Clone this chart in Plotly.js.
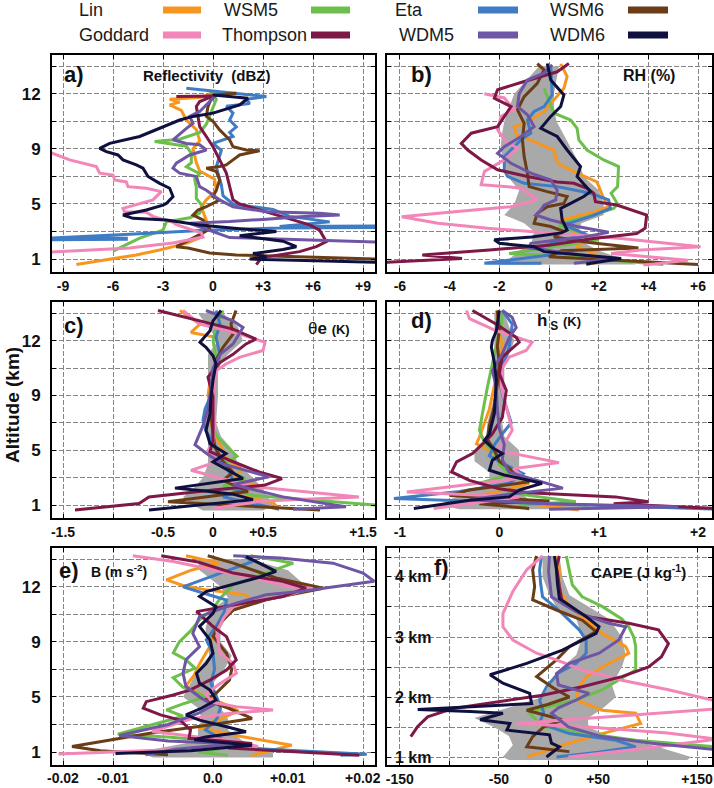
<!DOCTYPE html>
<html>
<head>
<meta charset="utf-8">
<script src="https://cdn.plot.ly/plotly-3.0.1.min.js"></script>
<style>
  html, body { margin: 0; padding: 0; background: #fff; }
  #chart { width: 714px; height: 788px; }
</style>
</head>
<body>
<div id="chart"></div>
<script>
// model order and colours (legend reads across, two rows)
const models = ['Lin', 'WSM5', 'Eta', 'WSM6', 'Goddard', 'Thompson', 'WDM5', 'WDM6'];
const colors = ['#f7961f', '#6cbf4a', '#3f7cc4', '#6a3d17', '#f386b8', '#7d1847', '#6f56a4', '#10103f'];

// panels a-e use the model level axis: one grid step per level, labelled in km
const levTicks = [0, 2, 4, 6];
const levLabels = ['1', '5', '9', '12'];
const levGrid = [1, 3, 5, 7];
// panel f is in km
const kmTicks = [1, 2, 3, 4];
const kmLabels = ['1 km', '2 km', '3 km', '4 km'];
const kmGrid = [1.5, 2.5, 3.5, 4.33];

// ---- a) reflectivity (dBZ), points are [value, level]
const reflLin = [[-8.2,-0.2],[-6.2,0],[-4.6,0.15],[-3.2,0.33],[-1.6,0.57],[-0.7,0.8],[-0.8,1.0],[-0.3,1.18],[-0.4,1.4],[-0.7,1.9],[-0.4,2.15],[0.2,2.5],[0.1,2.9],[-0.8,3.2],[-1.0,3.5],[-1.2,4.0],[-0.8,4.3],[-1.0,4.7],[-1.6,5.05],[-1.9,5.4],[-2.6,5.6],[-2.0,5.7],[-2.6,5.8],[-0.8,5.87],[0,6.0],[1.4,6.02]];
const reflWSM5 = [[-6.0,0.29],[-4.4,0.76],[-3.0,1.05],[-2.8,1.35],[-1.4,1.5],[-0.8,1.67],[-0.6,1.9],[-1.0,2.2],[-1.0,2.6],[-1.1,2.9],[-0.8,3.1],[-1.6,3.35],[-1.3,3.5],[-1.3,3.85],[-1.6,4.1],[-3.5,4.27],[-2.0,4.35],[-0.8,4.6],[-0.4,4.9],[0,5.5],[0.2,5.8],[-0.2,6.1]];
const reflEta = [[-9.9,0.7],[-5.2,0.72],[-5.2,0.76],[-9.9,0.76],[-5.0,0.9],[-3.0,0.97],[-0.5,1.05],[4.0,1.13],[9.9,1.15],[9.9,1.2],[4.0,1.18],[7.0,1.35],[4.6,1.55],[3.6,1.8],[1.2,2.0],[0.6,2.3],[0.5,2.7],[0.4,2.9],[0.2,3.35],[0.5,3.95],[0.0,4.2],[1.2,4.45],[1.0,4.6],[1.4,4.8],[1.0,5.05],[1.2,5.3],[0.8,5.55],[2.2,5.65],[2.0,5.8],[3.2,5.9],[1.6,6.0],[-1.6,6.2]];
const reflWSM6 = [[1.4,6.02],[0,5.95],[-0.3,5.54],[-0.4,5.18],[0,5.0],[0.4,4.69],[0.8,4.45],[1.0,4.33],[1.2,4.08],[2.0,3.96],[2.8,3.93],[1.6,3.78],[1.2,3.6],[0.8,3.42],[0.4,3.36],[-0.4,3.3],[0.2,3.18],[0.4,2.87],[0.2,2.5],[0,2.27],[0.4,2.15],[-0.4,1.9],[-0.9,1.78],[-1.2,1.6],[-0.6,1.42],[-0.2,1.1],[-0.6,0.95],[-2.2,0.45],[-1.5,0.4],[-0.2,0.22],[1.4,0.15],[9.9,0.0]];
const reflGoddard = [[-9.9,3.9],[-8.6,3.6],[-7,3.36],[-6.8,3.12],[-6,3.05],[-5.9,2.87],[-5.2,2.8],[-5.1,2.63],[-4,2.57],[-3.1,2.45],[-3.6,2.15],[-4.4,2.02],[-5.4,1.84],[-5.3,1.72],[-4,1.7],[-3.6,1.55],[-2.4,1.33],[-2.2,1.25],[-0.7,0.95],[-0.6,0.8],[-1.6,0.68],[-2.4,0.58],[-3.6,0.5],[-5,0.4],[-9.9,0.25]];
const reflThompson = [[-2.2,5.9],[0,5.92],[-0.8,5.72],[-1.0,5.54],[-0.9,5.18],[-0.8,4.81],[-0.4,4.45],[0,4.08],[0.4,3.6],[0.8,3.12],[1.0,2.63],[1.2,2.15],[1.6,2.0],[3.2,1.72],[4.8,1.42],[5.8,1.24],[6.4,1.05],[6.6,0.81],[6.8,0.63],[6.2,0.45],[5.2,0.27],[3.2,0.08],[2.8,-0.04],[2.6,-0.2]];
const reflWDM5 = [[0.2,5.96],[-0.2,5.72],[-0.8,5.36],[-1.4,5.18],[-1.2,4.93],[-1.7,4.69],[-2.2,4.45],[-2.4,4.33],[-1.6,4.2],[-0.8,4.15],[-0.4,3.96],[-1.4,3.78],[-2.2,3.48],[-2.4,3.3],[-2.0,3.12],[-1.0,3.0],[-0.8,2.63],[-0.4,2.5],[0.4,2.15],[1.2,1.9],[3.2,1.72],[6.4,1.66],[7.6,1.6],[5.2,1.54],[3.2,1.45],[1.0,1.36],[-1.4,1.3],[1.0,0.78],[9.9,0.62]];
const reflWDM6 = [[0,5.96],[2.1,5.84],[1.6,5.6],[0,5.3],[-1.2,5.18],[-2.0,5.05],[-3.2,4.75],[-4.4,4.45],[-6.2,4.2],[-6.8,4.02],[-6.4,3.9],[-5.7,3.78],[-5.4,3.6],[-4.6,3.42],[-4.2,3.3],[-3.9,3.0],[-3.2,2.75],[-2.6,2.57],[-2.4,2.27],[-2.8,2.02],[-3.0,1.96],[-4.0,1.78],[-5.4,1.6],[-4.8,1.48],[-2.8,1.42],[-0.8,1.24],[1.6,1.1],[3.8,1.0],[1.6,0.85],[2.5,0.78],[4.2,0.65],[5.0,0.45],[4.2,0.35],[2.4,0.2],[3.2,0.08],[2.2,0.0],[9.9,-0.12]];

// ---- b) relative humidity (%)
const rhLin = [[0.47,7.09],[0.73,6.63],[0.6,6.2],[0.13,5.72],[-0.2,5.36],[-0.73,5.05],[-1.4,4.8],[-1.3,4.5],[-0.7,4.3],[0.2,3.96],[0.33,3.5],[0.73,3.3],[1.13,3.12],[1.93,2.8],[2.2,2.2],[2.4,1.9],[1.8,1.7],[0.4,1.4],[0.9,1.05],[1.6,0.7],[1.1,0.45],[1.8,0.2],[2.1,-0.1],[1.5,-0.2]];
const rhWSM5 = [[-0.2,6.2],[0.2,5.3],[0.87,5.05],[1.13,4.75],[1.2,4.33],[1.53,3.96],[2.2,3.6],[2.8,3.36],[2.76,2.63],[2.5,2.39],[2.76,2.0],[2.6,1.84],[1.56,1.54],[0.76,1.36],[0.4,1.2],[1.2,1.0],[2.0,0.7],[0.5,0.5],[-1.6,0.2],[0.5,0.1],[4.6,-0.2]];
const rhEta = [[0.07,7.0],[0.13,5.96],[-0.2,5.54],[-0.6,5.36],[-0.87,5.05],[-0.73,4.57],[-1.13,4.33],[-1.53,3.96],[-1.8,3.72],[-1.8,3.24],[-1.67,3.0],[-1.0,2.75],[0.33,2.63],[1.67,2.39],[2.4,2.15],[2.47,1.84],[1.83,1.6],[1.03,1.36],[0.6,1.24],[1.5,0.9],[0.2,0.6],[-0.5,0.4],[0.5,0.2],[-2.6,-0.15],[-0.3,-0.15]];
const rhWSM6 = [[-0.47,7.1],[-0.2,6.87],[-0.47,6.38],[-1.0,5.9],[-1.27,5.42],[-1.0,4.93],[-1.07,4.33],[-1.0,3.72],[-0.87,3.12],[-0.8,2.63],[-0.07,2.45],[0.73,2.27],[0.6,2.02],[-0.07,1.9],[-0.47,1.66],[-0.6,1.3],[0.07,1.18],[0.6,1.0],[0.2,0.8],[1.6,0.6],[3.6,0.4],[0.5,0.3],[0,0.08],[6.0,-0.2]];
const rhGoddard = [[-2.6,6.0],[-1.8,5.85],[-1.4,5.42],[-1.93,5.18],[-2.07,4.7],[-1.8,4.33],[-1.27,4.02],[-1.8,3.6],[-2.6,3.18],[-2.73,2.7],[-1.67,2.63],[-1.13,2.57],[-0.47,2.15],[-1.53,1.9],[-3.8,1.72],[-5.93,1.54],[-4.47,1.3],[-2.47,1.12],[0,0.95],[2.9,0.75],[6.1,0.45],[3.7,0.33],[2.5,0.2],[5.6,-0.04],[3.8,-0.22]];
const rhThompson = [[0.8,7.1],[0.33,6.8],[-1.0,6.45],[-2.07,6.15],[-2.2,5.84],[-1.53,5.54],[-2.07,4.81],[-3.13,4.57],[-3.53,4.2],[-3.27,3.96],[-2.73,3.6],[-2.07,3.24],[-0.87,3.0],[0.33,2.8],[1.0,2.75],[1.53,2.57],[1.8,2.39],[1.87,2.08],[2.73,1.96],[3.93,1.6],[3.87,1.12],[3.53,0.93],[1.8,0.75],[0,0.5],[-2.4,0.33],[-5.1,0.15],[-3.5,0.02],[-6.6,-0.12]];
const rhWDM5 = [[0.13,7.05],[-0.2,6.75],[-0.87,6.5],[-1.2,6.0],[-1.27,5.54],[-0.87,5.24],[-0.6,4.81],[-1.13,4.45],[-1.8,4.08],[-2.07,3.84],[-1.53,3.48],[-0.73,3.12],[0.07,2.87],[0.33,2.5],[0.27,2.15],[-0.2,1.96],[-0.33,1.78],[-0.53,1.6],[0.07,1.42],[1.13,1.18],[2.4,0.97],[1.4,0.8],[0.33,0.69],[-0.73,0.57],[-0.8,0.4],[0.5,0.25],[2.6,0.0],[1.0,-0.15]];
const rhWDM6 = [[-0.07,7.1],[0.07,6.5],[0.6,5.96],[0.47,5.54],[0.07,5.18],[-0.33,4.75],[0.33,4.45],[0.73,3.96],[1.27,3.36],[1.13,3.0],[1.67,2.45],[1.4,2.27],[0.87,2.02],[0.47,1.84],[0.53,1.42],[0.73,1.05],[0.5,0.95],[-0.7,0.8],[-2.2,0.7],[-2.0,0.57],[-0.6,0.45],[-0.2,0.27],[2.9,0.02],[1.5,-0.18]];
const rhBandLev = [7.0, 6.5, 6.0, 5.5, 5.0, 4.5, 4.0, 3.5, 3.0, 2.5, 2.0, 1.6, 1.3, 1.0, 0.6, 0.3, 0.0, -0.2];
const rhBandLo = [-0.4, -0.9, -1.4, -1.6, -1.8, -1.9, -1.95, -1.8, -1.67, -1.2, -1.4, -1.8, -1.0, -0.6, -0.7, -1.2, -1.6, -2.0];
const rhBandHi = [0.4, 0.3, 0.2, 0.2, 0.3, 0.6, 0.9, 1.2, 1.4, 2.0, 2.2, 2.2, 1.3, 1.2, 1.4, 2.0, 3.0, 3.5];

// ---- c) equivalent potential temperature (K)
const theLin = [[-0.33,7.1],[-0.13,6.6],[-0.22,6.3],[0.03,6.12],[0.07,5.5],[0.05,5.0],[-0.03,4.5],[-0.05,4.0],[0,3.5],[-0.02,3.0],[0.03,2.5],[0.1,2.0],[0.15,1.6],[0.3,1.3],[0.2,1.0],[0.45,0.7],[0.2,0.4],[0.6,0.1],[0.66,-0.15]];
const theWSM5 = [[0.1,7.1],[0.03,6.5],[0,6.0],[0.03,5.4],[0,4.5],[0,3.5],[0,2.8],[0.05,2.45],[0.24,1.78],[0.12,1.52],[0.2,1.2],[0.32,0.97],[0.1,0.7],[0.4,0.35],[1.65,0.0]];
const theEta = [[0.03,7.1],[0.07,6.6],[0.03,6.12],[0.07,5.5],[0.02,4.8],[0,4.2],[-0.08,3.5],[-0.1,3.1],[-0.07,2.7],[0.02,2.2],[0.05,1.8],[0.15,1.3],[0.2,0.9],[0.3,0.6],[0.1,0.3],[0.66,-0.15]];
const theWSM6 = [[0.23,7.1],[0.18,6.6],[0.2,6.24],[0.1,5.76],[0.03,5.3],[0,4.7],[0,4.0],[-0.02,3.3],[0,2.6],[0.02,2.1],[0.1,1.6],[0.2,1.2],[0.1,0.9],[0.35,0.5],[-0.45,0.12],[1.07,-0.18]];
const theGoddard = [[-0.3,7.1],[-0.13,6.6],[0.27,6.24],[0.52,5.94],[0.5,5.64],[0.27,5.4],[0.13,5.15],[0.03,4.9],[0,4.0],[0.02,3.0],[0,2.3],[-0.05,2.0],[0.05,1.6],[-0.22,1.27],[0.06,1.0],[0.4,0.67],[1.46,0.3],[0.5,0.15],[0,-0.12]];
const theThompson = [[-0.55,7.1],[-0.27,6.85],[0.2,6.42],[0.43,6.06],[0.33,5.88],[0.2,5.5],[0.07,5.2],[0,4.9],[-0.05,4.67],[0,3.94],[0,3.09],[0,2.36],[-0.03,1.95],[0.19,1.6],[0.46,1.21],[0.69,0.97],[0.52,0.73],[0,0.55],[-0.64,0.3],[-0.74,0.06],[-1.38,-0.18]];
const theWDM5 = [[-0.07,7.1],[0.2,6.72],[0.3,6.48],[0.2,5.88],[0.07,5.5],[0,5.0],[-0.02,4.3],[-0.05,3.5],[-0.1,2.9],[-0.18,2.2],[-0.05,1.85],[0.1,1.5],[0.56,1.03],[0.2,0.75],[0.7,0.3],[1.33,-0.06],[0.8,-0.15]];
const theWDM6 = [[0.08,7.1],[0,6.72],[-0.03,6.36],[-0.13,5.94],[-0.07,5.76],[0,5.45],[0.03,5.15],[0,4.55],[-0.02,3.94],[-0.03,3.33],[-0.07,2.73],[-0.03,2.24],[0.13,1.88],[0,1.58],[0.3,0.97],[-0.38,0.62],[-0.1,0.52],[0.2,0.4],[0.4,0.2],[-0.64,-0.18]];
const theBandLev = [7.0, 6.5, 6.0, 5.5, 5.0, 4.0, 3.0, 2.5, 2.0, 1.5, 1.0, 0.6, 0.3, 0.0, -0.2];
const theBandLo = [-0.15, -0.05, 0.05, -0.05, -0.05, -0.05, -0.08, -0.05, -0.05, -0.05, -0.1, -0.2, -0.3, -0.2, -0.1];
const theBandHi = [0.1, 0.25, 0.3, 0.15, 0.05, 0.05, 0.03, 0.08, 0.2, 0.25, 0.4, 0.5, 0.55, 0.6, 0.5];

// ---- d) saturated moist static energy anomaly (K)
const hsLin = [[-0.03,7.1],[0,6.5],[0.03,5.76],[0,5.2],[-0.05,4.3],[-0.1,3.5],[-0.2,2.48],[-0.23,2.24],[-0.1,2.0],[0.0,1.6],[0.1,1.2],[0.3,0.8],[0.0,0.5],[-0.3,0.3],[0.2,0.1],[0.8,-0.18]];
const hsWSM5 = [[0.03,7.1],[0.02,6.5],[-0.02,6.0],[-0.05,5.5],[-0.07,5.15],[-0.12,4.3],[-0.17,3.33],[-0.2,2.73],[-0.15,2.3],[-0.05,1.9],[0.0,1.5],[0.1,1.1],[-0.2,0.8],[0.2,0.4],[0.77,0.12],[0.2,0.0],[0.3,-0.15]];
const hsEta = [[0.03,7.1],[0.13,6.6],[0.1,5.76],[0.03,5.03],[0,4.5],[0.05,3.8],[0.12,3.0],[0.03,2.6],[-0.05,2.2],[-0.1,1.8],[0.05,1.5],[0.24,1.15],[0.1,0.8],[-0.4,0.5],[-1.06,0.24],[-0.5,0.18],[0.5,0.05],[2.2,-0.15]];
const hsWSM6 = [[-0.02,7.1],[0,6.4],[-0.02,5.8],[0,5.2],[-0.02,4.4],[-0.05,3.6],[-0.1,2.9],[-0.12,2.4],[-0.05,2.0],[0.0,1.6],[0.15,1.2],[0.3,0.85],[-0.3,0.55],[-0.5,0.35],[0.5,0.15],[-0.2,0.05],[0.3,-0.12]];
const hsGoddard = [[-0.33,7.1],[-0.3,6.8],[-0.03,6.36],[0.17,6.12],[0.33,5.94],[0.27,5.64],[0.1,5.4],[0.03,5.0],[0.02,4.3],[0.07,3.58],[0.13,2.73],[0.07,2.36],[-0.03,2.0],[0.6,1.55],[0.14,1.33],[0.25,1.0],[-0.93,0.48],[0.2,0.3],[-0.2,0.1],[-0.66,-0.12]];
const hsThompson = [[-0.27,7.1],[-0.03,6.6],[0.17,6.12],[0.2,5.94],[0.03,5.4],[0,4.8],[0.07,4.18],[0.03,3.2],[-0.07,2.6],[-0.13,2.36],[-0.27,1.88],[-0.43,1.58],[-0.48,1.21],[-0.3,0.9],[0,0.6],[0.3,0.45],[1.17,0.3],[1.5,0.12],[1.15,0.05],[2.2,-0.12]];
const hsWDM5 = [[0.03,7.1],[0.13,6.85],[0.17,6.48],[0.1,6.12],[0.03,5.52],[-0.07,4.9],[-0.03,4.3],[-0.02,3.5],[0,2.8],[0.05,2.2],[0.03,1.65],[0.1,1.2],[0.64,0.62],[0.1,0.4],[-0.3,0.2],[0.5,0.05],[1.8,-0.06],[0.5,-0.15]];
const hsWDM6 = [[0,7.1],[-0.03,6.36],[-0.07,6.0],[-0.08,5.76],[-0.05,5.2],[-0.03,4.55],[-0.05,3.33],[-0.1,2.6],[-0.15,2.36],[-0.08,2.12],[0.03,1.88],[-0.07,1.64],[-0.1,1.27],[0.05,1.1],[0.43,0.8],[0.2,0.55],[0.1,0.3],[-0.3,0.18],[-0.86,-0.12]];
const hsBandLev = [7.0, 6.0, 5.0, 4.0, 3.0, 2.5, 2.0, 1.6, 1.2, 0.8, 0.5, 0.2, 0.0, -0.15];
const hsBandLo = [-0.05, -0.05, -0.05, -0.05, -0.12, -0.13, -0.25, -0.25, -0.1, -0.1, -0.3, -0.5, -0.6, -0.4];
const hsBandHi = [0.05, 0.15, 0.05, 0.05, 0.03, 0.05, 0.2, 0.2, 0.2, 0.3, 0.2, 0.3, 0.9, 0.9];

// ---- e) buoyancy (m s-2)
const bLin = [[-0.0036,7.13],[0.0009,6.86],[-0.003,6.6],[-0.0062,6.25],[-0.004,6.05],[-0.0009,5.89],[0.0044,5.71],[0.0053,5.47],[0.0027,5.16],[0.001,4.8],[0,4.3],[-0.0005,3.8],[-0.0018,3.2],[-0.0025,2.8],[-0.0036,2.4],[-0.001,2.0],[0.0015,1.75],[0.0034,1.5],[0.001,1.2],[-0.002,0.9],[0.003,0.6],[0.0105,0.25],[0.0052,-0.12]];
const bWSM5 = [[0.005,7.13],[0.0107,6.86],[0.007,6.5],[0.0027,6.07],[0.001,5.6],[0,5.2],[-0.0018,4.8],[-0.003,4.4],[-0.0045,4.0],[-0.0053,3.6],[-0.0036,3.35],[-0.0024,3.05],[-0.0053,2.7],[-0.004,2.35],[-0.001,2.0],[-0.004,1.75],[-0.0062,1.53],[-0.004,1.3],[-0.008,1.0],[-0.0127,0.65],[-0.006,0.55],[0,0.4],[0.003,0.2],[-0.002,0.0],[0.002,-0.12]];
const bEta = [[0.004,7.13],[0.0053,6.92],[0.003,6.7],[0,6.4],[-0.004,6.0],[-0.001,5.75],[0.0018,5.52],[0.0015,5.1],[0.0005,4.6],[-0.0009,4.07],[0,3.59],[0.0002,3.0],[-0.0003,2.5],[0.0005,2.0],[0.001,1.6],[0.0005,1.2],[-0.001,0.8],[0.001,0.5],[0,0.2],[0.0205,-0.08],[0.017,-0.12]];
const bWSM6 = [[-0.0007,7.13],[0.0027,6.86],[0.0084,6.32],[0.0147,5.95],[0.011,5.75],[0.0071,5.53],[0.0027,5.16],[0.001,4.7],[0,4.2],[0.0018,3.59],[0.0025,3.0],[0.0022,2.62],[0.0004,2.13],[-0.001,1.9],[0.002,1.6],[0.0052,1.22],[0,1.0],[-0.008,0.7],[-0.0188,0.2],[-0.015,0.05],[-0.006,-0.1]];
const bGoddard = [[-0.0107,7.13],[-0.0053,6.92],[0,6.62],[0.0053,6.32],[0.0102,6.0],[0.0131,5.95],[0.0093,5.65],[0.0049,5.47],[0.0027,5.28],[0.0015,4.9],[0.0005,4.4],[0.0009,3.6],[0.0027,3.22],[0.0031,2.86],[0.001,2.5],[-0.001,2.1],[0,1.8],[0.0031,1.65],[0.008,1.53],[0.002,1.4],[-0.003,1.2],[-0.0081,0.75],[-0.002,0.55],[0.003,0.4],[0.006,0.2],[-0.0206,-0.07]];
const bThompson = [[-0.0069,7.13],[-0.002,6.9],[0.0027,6.5],[0.0093,6.2],[0.0124,5.95],[0.0093,5.65],[0.004,5.4],[0,5.22],[-0.0022,5.1],[0,4.56],[0.0018,4.19],[0.0031,3.35],[0.0018,2.98],[-0.0005,2.6],[-0.0031,2.25],[-0.0053,2.07],[-0.0089,1.83],[-0.0093,1.59],[-0.007,1.35],[-0.0044,1.16],[-0.003,0.8],[-0.0032,0.5],[0.0052,0.31],[0.002,0.15],[0.0195,-0.12]];
const bWDM5 = [[0.0027,7.13],[0.009,7.05],[0.016,6.86],[0.02,6.5],[0.0215,6.2],[0.016,6.0],[0.0116,5.83],[0.0071,5.71],[0.003,5.4],[0,5.1],[-0.0018,4.92],[-0.0027,4.31],[-0.0018,3.83],[-0.0036,3.35],[-0.004,2.86],[-0.0036,2.38],[-0.0018,2.0],[0,1.7],[-0.002,1.4],[-0.006,1.0],[-0.0125,0.6],[-0.006,0.4],[0.003,0.3],[-0.005,0.1],[-0.009,-0.1]];
const bWDM6 = [[0.0044,7.1],[0.0084,6.56],[0.0058,6.32],[0.0022,6.07],[-0.0009,5.83],[-0.0018,5.65],[0.0004,5.28],[0,5.04],[-0.0018,4.56],[-0.0004,4.07],[0,3.59],[-0.0009,3.22],[-0.0022,2.86],[-0.0018,2.5],[-0.0004,2.25],[0.0004,1.89],[-0.0015,1.6],[-0.0036,1.35],[-0.0018,1.16],[0.0018,0.92],[0.0044,0.74],[-0.001,0.55],[-0.0025,0.45],[0.0052,0.25],[-0.003,0.05],[-0.013,-0.05]];
const bBandLev = [7.0, 6.6, 6.0, 5.6, 5.3, 5.0, 4.5, 4.0, 3.5, 3.0, 2.5, 2.0, 1.6, 1.2, 0.8, 0.4, 0.0, -0.2];
const bBandLo = [-0.002, -0.0018, 0.001, 0.002, 0.0005, -0.0005, -0.001, -0.0008, -0.0005, -0.002, -0.003, -0.004, -0.002, -0.0015, -0.002, -0.002, -0.01, -0.008];
const bBandHi = [0.005, 0.01, 0.0125, 0.008, 0.0035, 0.002, 0.001, 0.001, 0.0025, 0.0015, 0, -0.0005, 0.001, 0.002, 0.002, 0.004, 0.008, 0.008];

// ---- f) CAPE (J kg-1), points are [value, km]
const capeLin = [[9,4.35],[11,4.12],[10,3.8],[21,3.51],[40,3.25],[54,3.06],[78,2.84],[81,2.73],[60,2.55],[38,2.34],[30,2.15],[28,1.95],[54,1.78],[88,1.73],[93,1.56],[54,1.39],[21,1.23],[-22,1.0]];
const capeWSM5 = [[18,4.35],[21,4.12],[24,3.87],[34,3.67],[54,3.51],[74,3.3],[81,3.17],[86,3.0],[88,2.84],[88,2.45],[54,2.12],[28,1.95],[-5,1.82],[-19,1.73],[-6,1.51],[38,1.39],[88,1.28],[170,1.17]];
const capeEta = [[-7,4.35],[-9,4.12],[-8,3.9],[-6,3.67],[10,3.45],[31,3.12],[38,2.95],[38,2.73],[28,2.56],[10,2.4],[-2,2.17],[-9,1.95],[-5,1.75],[-9,1.56],[21,1.39],[68,1.28],[88,1.17],[50,1.08],[8,1.0]];
const capeWSM6 = [[-12,4.35],[-16,4.12],[-14,3.84],[-16,3.62],[8,3.45],[34,3.28],[48,3.09],[21,2.84],[8,2.62],[-12,2.34],[5,2.15],[21,2.0],[0,1.88],[-22,1.78],[14,1.62],[-5,1.5],[-16,1.34],[-22,1.17],[21,1.09]];
const capeGoddard = [[-6,4.35],[-22,4.12],[-36,3.76],[-46,3.39],[-46,3.17],[-36,2.95],[-12,2.73],[8,2.62],[34,2.45],[74,2.28],[121,2.12],[170,1.93],[170,1.8],[70,1.68],[-32,1.56],[40,1.5],[120,1.4],[170,1.3],[100,1.15],[20,1.0]];
const capeThompson = [[11,4.35],[8,4.17],[11,3.84],[14,3.56],[38,3.34],[81,3.23],[111,3.12],[121,2.89],[114,2.67],[101,2.5],[74,2.34],[34,2.17],[-6,2.03],[-52,1.92],[-96,1.81],[-122,1.67],[-132,1.51],[-139,1.34]];
const capeWDM5 = [[1,4.35],[0,4.1],[3,3.67],[30,3.4],[61,3.23],[78,3.17],[71,2.95],[51,2.73],[21,2.56],[8,2.39],[10,2.2],[41,2.06],[28,1.95],[10,1.82],[3,1.73],[20,1.5],[54,1.34],[104,1.23],[170,1.12]];
const capeWDM6 = [[6,4.35],[8,4.12],[9,3.9],[11,3.64],[38,3.34],[51,3.17],[48,3.06],[14,2.78],[-22,2.56],[-59,2.37],[-46,2.23],[-19,2.06],[-17,1.89],[-69,1.84],[-112,1.81],[-132,1.79],[-79,1.76],[-46,1.73],[-69,1.62],[-39,1.56],[-42,1.45],[1,1.37],[3,1.23],[11,1.17],[-2,1.0]];
const capeBandKm = [4.35, 4.0, 3.7, 3.5, 3.3, 3.0, 2.7, 2.5, 2.2, 2.0, 1.8, 1.65, 1.5, 1.35, 1.2, 1.0, 0.95];
const capeBandLo = [-6, -6, 1, 8, 28, 34, 28, 14, 1, -6, -45, -75, -55, -40, -36, -46, -40];
const capeBandHi = [11, 14, 21, 41, 61, 74, 78, 74, 64, 68, 54, 40, 40, 61, 104, 144, 140];

// tick labels of each panel
const reflTicks = [-9, -6, -3, 0, 3, 6, 9];
const reflText = ['-9', '-6', '-3', '0', '+3', '+6', '+9'];
const rhTicks = [-6, -4, -2, 0, 2, 4, 6];
const rhText = ['-6', '-4', '-2', '0', '+2', '+4', '+6'];
const theTicks = [-1.5, -0.5, 0, 0.5, 1.5];
const theText = ['-1.5', '-0.5', '0', '+0.5', '+1.5'];
const hsTicks = [-1, 0, 1, 2];
const hsText = ['-1', '0', '+1', '+2'];
const bGrid = [-0.02, -0.0133333, -0.0066667, 0, 0.0066667, 0.0133333, 0.02];
const bTicks = [-0.02, -0.0133333, 0, 0.01, 0.02];
const bText = ['-0.02', '-0.01', '0.0', '+0.01', '+0.02'];
const capeTicks = [-150, -50, 0, 50, 150];
const capeText = ['-150', '-50', '0', '+50', '+150'];

// ---- layout geometry (figure is 714 x 788 px)
const W = 714, H = 788;
const colL = [52 / W, 375 / W], colR = [387 / W, 712 / W];
const row1 = [1 - 272 / H, 1 - 55 / H];
const row2 = [1 - 518 / H, 1 - 302 / H];
const row3 = [1 - 765 / H, 1 - 548 / H];
const levRange = [-0.47, 7.41];
const bRange = [-0.02147, 0.0216];

const FONT = 'Liberation Sans, Arial, Helvetica, sans-serif';
const gridColor = '#858585';
const gridDash = '5px,2px';

function axisBase() {
  return {
    showgrid: true, gridcolor: gridColor, gridwidth: 1, griddash: gridDash,
    showline: true, linecolor: '#000', linewidth: 2, mirror: 'allticks',
    zeroline: false, ticks: 'inside', ticklen: 4, tickcolor: '#000', tickwidth: 1,
    tickmode: 'array', fixedrange: true,
    tickfont: {family: FONT, size: 14, color: '#111', weight: 'bold'}
  };
}

function withMinor(ax, vals) {
  ax.minor = {tickmode: 'array', tickvals: vals, showgrid: true, gridcolor: gridColor,
    gridwidth: 1, griddash: gridDash, ticks: 'inside', ticklen: 4, tickcolor: '#000'};
  return ax;
}

function xAx(domain, anchor, range, vals, text, minor) {
  const ax = Object.assign(axisBase(), {domain, anchor, range, tickvals: vals});
  if (text) ax.ticktext = text; else ax.showticklabels = false;
  return minor ? withMinor(ax, minor) : ax;
}

function levAx(domain, anchor, labels) {
  const ax = Object.assign(axisBase(), {domain, anchor, range: levRange,
    tickvals: levTicks, showticklabels: labels, ticklabelstandoff: 6});
  if (labels) ax.ticktext = levLabels;
  ax.tickfont = {family: FONT, size: 17, color: '#111', weight: 'bold'};
  return withMinor(ax, levGrid);
}

function curves(list, xa, ya) {
  return list.map((pts, i) => ({
    type: 'scatter', mode: 'lines', xaxis: xa, yaxis: ya,
    x: pts.map(p => p[0]), y: pts.map(p => p[1]),
    name: models[i], line: {color: colors[i], width: 3},
    hoverinfo: 'skip', showlegend: false
  }));
}

function band(lev, lo, hi, xa, ya) {
  return {
    type: 'scatter', mode: 'lines', xaxis: xa, yaxis: ya,
    x: lo.concat(hi.slice().reverse()), y: lev.concat(lev.slice().reverse()),
    fill: 'toself', fillcolor: '#a9a9a9', line: {width: 0, color: '#a9a9a9'},
    hoverinfo: 'skip', showlegend: false
  };
}

const data = [].concat(
  curves([reflLin, reflWSM5, reflEta, reflWSM6, reflGoddard, reflThompson, reflWDM5, reflWDM6], 'x', 'y'),
  [band(rhBandLev, rhBandLo, rhBandHi, 'x2', 'y2')],
  curves([rhLin, rhWSM5, rhEta, rhWSM6, rhGoddard, rhThompson, rhWDM5, rhWDM6], 'x2', 'y2'),
  [band(theBandLev, theBandLo, theBandHi, 'x3', 'y3')],
  curves([theLin, theWSM5, theEta, theWSM6, theGoddard, theThompson, theWDM5, theWDM6], 'x3', 'y3'),
  [band(hsBandLev, hsBandLo, hsBandHi, 'x4', 'y4')],
  curves([hsLin, hsWSM5, hsEta, hsWSM6, hsGoddard, hsThompson, hsWDM5, hsWDM6], 'x4', 'y4'),
  [band(bBandLev, bBandLo, bBandHi, 'x5', 'y5')],
  curves([bLin, bWSM5, bEta, bWSM6, bGoddard, bThompson, bWDM5, bWDM6], 'x5', 'y5'),
  [band(capeBandKm, capeBandLo, capeBandHi, 'x6', 'y6')],
  curves([capeLin, capeWSM5, capeEta, capeWSM6, capeGoddard, capeThompson, capeWDM5, capeWDM6], 'x6', 'y6')
);

// panel f: km labels are written inside the frame as annotations
const y6 = withMinor(Object.assign(axisBase(), {
  domain: row3, anchor: 'x6', range: [0.867, 4.483],
  tickvals: kmTicks, showticklabels: false
}), kmGrid);

const layout = {
  width: W, height: H,
  margin: {l: 0, r: 0, t: 0, b: 0},
  paper_bgcolor: '#fff', plot_bgcolor: '#fff',
  showlegend: false,
  xaxis: xAx(colL, 'y', [-9.66, 9.72], reflTicks, reflText),
  yaxis: levAx(row1, 'x', true),
  xaxis2: xAx(colR, 'y2', [-6.52, 6.56], rhTicks, rhText),
  yaxis2: levAx(row1, 'x2', false),
  xaxis3: xAx(colL, 'y3', [-1.61, 1.62], theTicks, theText, [-1, 1]),
  yaxis3: levAx(row2, 'x3', true),
  xaxis4: xAx(colR, 'y4', [-1.13, 2.14], hsTicks, hsText, [-0.5, 0.5, 1.5]),
  yaxis4: levAx(row2, 'x4', false),
  // panel e: grid every 1/3 of 0.02, labels written separately below
  xaxis5: xAx(colL, 'y5', bRange, bGrid, null),
  yaxis5: levAx(row3, 'x5', true),
  xaxis6: xAx(colR, 'y6', [-163, 165], capeTicks, capeText, [-100, 100]),
  yaxis6: y6,
  annotations: [],
  shapes: []
};

function note(text, x, y, size, extra) {
  return Object.assign({
    xref: 'paper', yref: 'paper', x: x / W, y: 1 - y / H, text: text,
    showarrow: false, xanchor: 'left', yanchor: 'middle',
    font: {family: FONT, size: size, color: '#111', weight: 'bold'}
  }, extra || {});
}

// panel letters and titles
layout.annotations.push(
  note('a)', 62, 74, 22),
  note('Reflectivity\u00a0 (dBZ)', 141, 75, 15),
  note('b)', 409, 74, 22),
  note('RH (%)', 621, 75, 16),
  note('c)', 62, 325, 22),
  note('<span style="font-weight:normal">θ</span>e <span style="font-size:13px">(K)</span>', 306, 328, 17),
  note('d)', 409, 320, 22),
  note('h<sup>\u2032</sup><sub>S</sub> <span style="font-size:13px">(K)</span>', 535, 320, 17),
  note('e)', 57, 570, 22),
  note('B (m s<sup>-2</sup>)', 89, 571, 14),
  note('f)', 432, 567, 22),
  note('CAPE (J kg<sup>-1</sup>)', 589, 571, 15),
  note('Altitude (km)', 12, 405, 19, {xanchor: 'center', textangle: -90})
);

// panel e tick labels, placed at their values on the buoyancy axis
bTicks.forEach((v, i) => layout.annotations.push({
  xref: 'x5', yref: 'paper', x: v, y: 1 - 778 / H, text: bText[i],
  showarrow: false, xanchor: 'center', yanchor: 'middle',
  font: {family: FONT, size: 14, color: '#111', weight: 'bold'}
}));

// panel f altitude labels, inside the frame
kmTicks.forEach((v, i) => layout.annotations.push({
  xref: 'paper', yref: 'y6', x: 393 / W, y: v, text: kmLabels[i],
  showarrow: false, xanchor: 'left', yanchor: 'middle',
  font: {family: FONT, size: 16, color: '#111', weight: 'bold'}
}));

// legend drawn as text followed by a colour swatch, like the original figure
const legTextX = [77, 222, 393, 548, 77, 220, 397, 548];
const legSwatchX = [[163, 201], [311, 350], [478, 518], [628, 668]];
models.forEach((m, i) => {
  const y = i < 4 ? 10 : 35;
  layout.annotations.push(note(m, legTextX[i], y, 18,
    {font: {family: FONT, size: 18, color: '#1a1a1a'}}));
  const [x0, x1] = legSwatchX[i % 4];
  layout.shapes.push({type: 'line', xref: 'paper', yref: 'paper',
    x0: x0 / W, x1: x1 / W, y0: 1 - y / H, y1: 1 - y / H,
    line: {color: colors[i], width: 7}});
});

Plotly.newPlot('chart', data, layout, {displayModeBar: false, staticPlot: true});
</script>
</body>
</html>
